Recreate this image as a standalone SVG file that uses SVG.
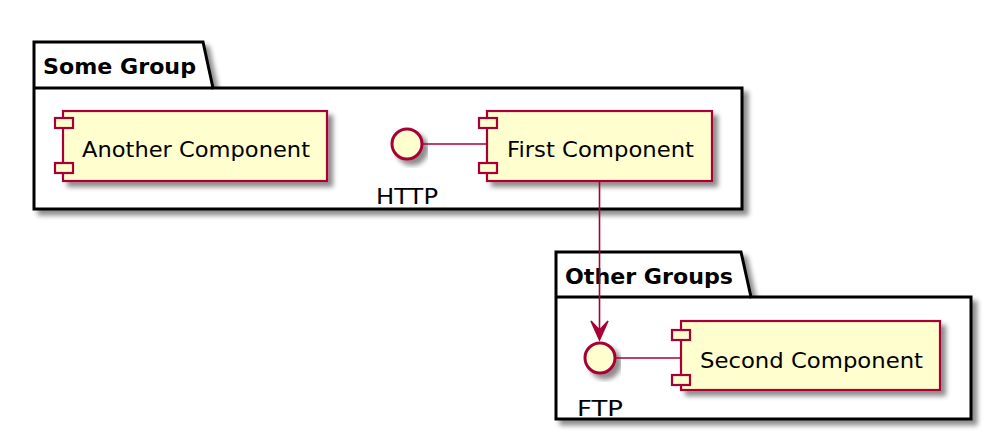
<svg xmlns="http://www.w3.org/2000/svg" width="1002" height="432" viewBox="0 0 1002 432">
<style>
.pkg{fill:#FFFFFF;stroke:#000000;stroke-width:3}
.comp{fill:#FEFECE;stroke:#A80036;stroke-width:2.2}
.ifc{fill:#FEFECE;stroke:#A80036;stroke-width:3}
.conn{fill:none;stroke:#A80036;stroke-width:1.6}
.title{font-family:"DejaVu Sans",sans-serif;font-weight:bold;font-size:22px;fill:#000}
.lbl{font-family:"DejaVu Sans",sans-serif;font-size:22px;fill:#000}
</style>
<defs>
<filter id="sh" x="-10%" y="-10%" width="130%" height="140%">
<feGaussianBlur in="SourceAlpha" stdDeviation="2.5" result="b"/>
<feOffset in="b" dx="5" dy="5" result="o"/>
<feComponentTransfer in="o" result="c"><feFuncA type="linear" slope="0.45"/></feComponentTransfer>
<feMerge><feMergeNode in="c"/><feMergeNode in="SourceGraphic"/></feMerge>
</filter>
</defs>
<g id="some-group">
<path class="pkg" filter="url(#sh)" d="M34,42 L203,42 L213,88 L742,88 L742,209 L34,209 Z"/>
<line x1="34" y1="88" x2="213" y2="88" stroke="#000" stroke-width="3"/>
<text class="title" x="43" y="74" textLength="153" lengthAdjust="spacingAndGlyphs">Some Group</text>
</g>
<g id="other-groups">
<path class="pkg" filter="url(#sh)" d="M556,252 L741,252 L751,297 L971,297 L971,419 L556,419 Z"/>
<line x1="556" y1="297" x2="751" y2="297" stroke="#000" stroke-width="3"/>
<text class="title" x="565" y="284" textLength="168" lengthAdjust="spacingAndGlyphs">Other Groups</text>
</g>
<g id="another-component">
<rect class="comp" filter="url(#sh)" x="63" y="111" width="264" height="70"/>
<rect class="comp" x="55" y="118" width="18" height="10"/>
<rect class="comp" x="55" y="163" width="18" height="10"/>
<text class="lbl" x="82" y="157" textLength="228" lengthAdjust="spacingAndGlyphs">Another Component</text>
</g>
<g id="first-component">
<rect class="comp" filter="url(#sh)" x="487" y="111" width="225" height="70"/>
<rect class="comp" x="479" y="118" width="18" height="10"/>
<rect class="comp" x="479" y="163" width="18" height="10"/>
<text class="lbl" x="507" y="157" textLength="187" lengthAdjust="spacingAndGlyphs">First Component</text>
</g>
<g id="http">
<circle class="ifc" filter="url(#sh)" cx="407" cy="144" r="15"/>
<text class="lbl" x="376" y="204" textLength="62" lengthAdjust="spacingAndGlyphs">HTTP</text>
</g>
<g id="second-component">
<rect class="comp" filter="url(#sh)" x="681" y="321" width="259" height="69"/>
<rect class="comp" x="672" y="330" width="18" height="10"/>
<rect class="comp" x="672" y="375" width="18" height="10"/>
<text class="lbl" x="700" y="368" textLength="223" lengthAdjust="spacingAndGlyphs">Second Component</text>
</g>
<g id="ftp">
<circle class="ifc" filter="url(#sh)" cx="600" cy="358" r="15"/>
<text class="lbl" x="577" y="416" textLength="46" lengthAdjust="spacingAndGlyphs">FTP</text>
</g>
<g id="connectors">
<line class="conn" x1="422" y1="144" x2="487" y2="144"/>
<line class="conn" x1="615" y1="358" x2="681" y2="358"/>
<line class="conn" x1="599.5" y1="181" x2="599.5" y2="332"/>
<polygon fill="#A80036" stroke="#A80036" stroke-width="1.5" points="599.5,340 591,321 599.5,330 608,321"/>
</g>
</svg>
